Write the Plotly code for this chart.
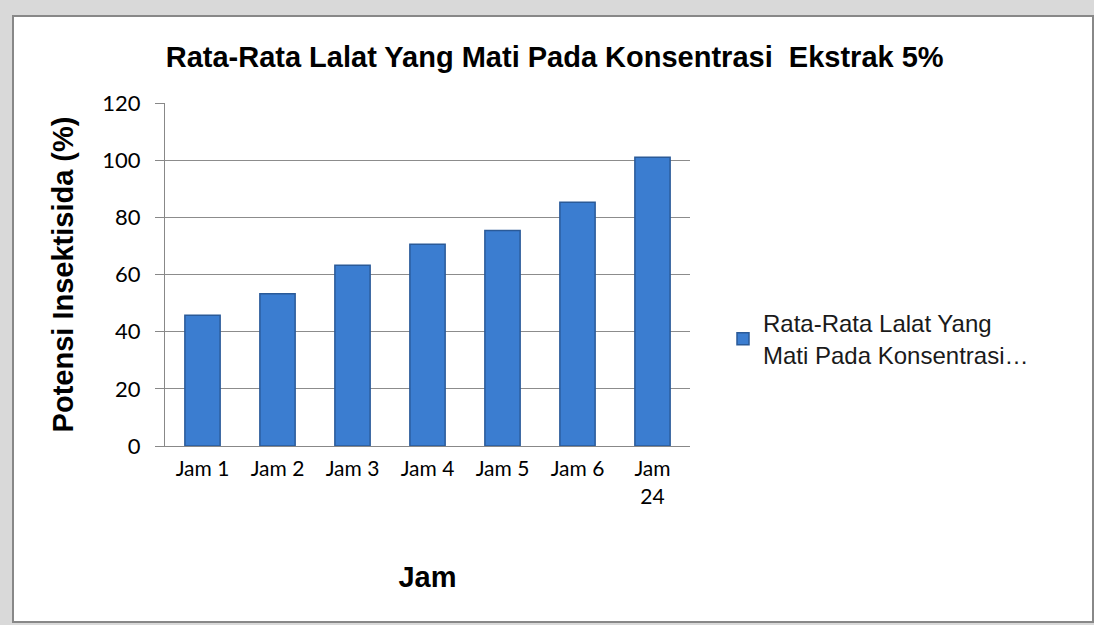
import plotly.graph_objects as go

categories = ["Jam 1", "Jam 2", "Jam 3", "Jam 4", "Jam 5", "Jam 6", "Jam 24"]
tick_labels = ["Jam 1", "Jam 2", "Jam 3", "Jam 4", "Jam 5", "Jam 6", "Jam<br>24"]
values = [45.7, 53.3, 63.2, 70.6, 75.4, 85.3, 101.0]
series_name = "Rata-Rata Lalat Yang<br>Mati Pada Konsentrasi\u2026"
title_text = "Rata-Rata Lalat Yang Mati Pada Konsentrasi  Ekstrak 5%"

W, H = 1094, 625
L, R, T, B = 165, 690, 103, 446
pw, ph = R - L, B - T

def px(x):
    return (x - L) / pw

def py(y):
    return (B - y) / ph

fig = go.Figure()
fig.add_trace(go.Bar(
    x=categories, y=values, name=series_name,
    marker=dict(color="#3b7dd0", line=dict(color="#2a5a98", width=1.5)),
    showlegend=True,
))

fig.update_layout(
    width=W, height=H,
    margin=dict(l=L, r=W - R, t=T, b=H - B),
    paper_bgcolor="#d9d9d9",
    plot_bgcolor="white",
    bargap=0.53,
    title=dict(text=title_text, x=0.507, xanchor="center", y=1 - 57 / H, yanchor="middle",
               font=dict(family="Liberation Sans", size=29, color="black", weight="bold")),
    showlegend=True,
    legend=dict(x=px(723), xanchor="left", y=py(339), yanchor="middle",
                bgcolor="rgba(0,0,0,0)", tracegroupgap=0,
                font=dict(family="Liberation Sans", size=24, color="#1a1a1a")),
    shapes=[dict(type="rect", xref="paper", yref="paper",
                 x0=px(13), x1=px(1093), y0=py(622), y1=py(16),
                 fillcolor="white", line=dict(color="#888", width=2), layer="below")],
)

fig.update_xaxes(
    tickmode="array", tickvals=categories, ticktext=tick_labels,
    showline=True, linecolor="#888", linewidth=1,
    ticks="", ticklabelstandoff=4,
    tickfont=dict(family="Lato", size=21, color="black"),
    title=dict(text="Jam", standoff=60,
               font=dict(family="Liberation Sans", size=29, color="black", weight="bold")),
)
fig.update_yaxes(
    range=[0, 120], dtick=20,
    showgrid=True, gridcolor="#8c8c8c", gridwidth=1,
    showline=True, linecolor="#888", linewidth=1,
    ticks="outside", ticklen=9, tickcolor="#888",
    ticklabelstandoff=10,
    tickfont=dict(family="Lato", size=22, color="black"),
    zeroline=False,
    title=dict(text="Potensi Insektisida (%)", standoff=20,
               font=dict(family="Liberation Sans", size=29, color="black", weight="bold")),
)

fig.write_html("out.html")
